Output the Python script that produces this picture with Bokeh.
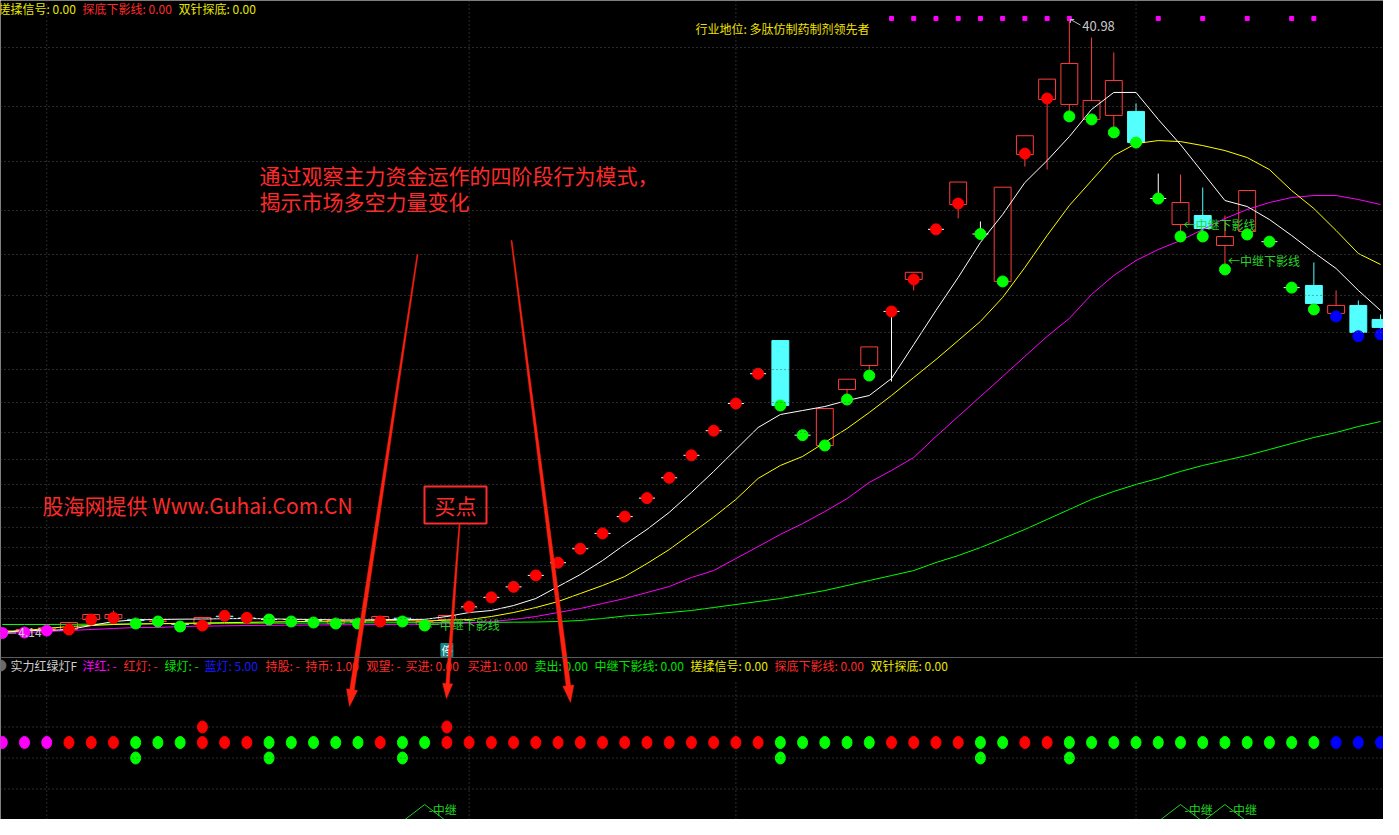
import math
from bokeh.plotting import figure
from bokeh.models import Range1d, Span, Grid
from bokeh.core.properties import value
from bokeh.embed import file_html
from bokeh.resources import INLINE

NAN = float("nan")

# ---------------- data ----------------
opens = [4.20, 4.25, 4.35, 4.35, 4.95, 5.01, 4.93, 4.83, 4.68, 4.65,
         5.15, 5.04, 4.95, 4.95, 4.90, 4.70, 4.80, 4.89, 5.03, 4.65,
         4.95, 5.71, 6.28, 6.91, 7.60, 8.36, 9.20, 10.12, 11.13, 12.24,
         13.46, 14.81, 16.29, 17.92, 19.71, 21.70, 16.02, 15.40, 18.76, 20.20,
         23.45, 25.37, 28.38, 29.87, 28.10, 25.25, 32.87, 36.18, 35.88, 34.98,
         35.22, 35.46, 30.23, 28.67, 29.21, 27.41, 28.25, 27.64, 24.88, 25.01,
         23.33, 23.81, 22.97]
highs = [4.30, 4.40, 4.50, 4.77, 5.25, 5.49, 4.95, 4.90, 4.70, 5.07,
         5.19, 5.07, 5.25, 4.97, 4.92, 4.90, 4.85, 5.13, 5.05, 4.85,
         5.19, 5.71, 6.28, 6.91, 7.60, 8.36, 9.20, 10.12, 11.13, 12.24,
         13.46, 14.81, 16.29, 17.92, 19.71, 21.70, 16.02, 17.62, 19.38, 21.32,
         23.45, 25.80, 28.38, 31.22, 28.85, 30.91, 34.00, 37.40, 40.98, 39.90,
         39.00, 35.94, 31.73, 31.67, 30.89, 29.21, 30.71, 27.64, 24.88, 26.39,
         24.71, 24.11, 23.27]
lows = [4.14, 4.17, 4.29, 4.35, 4.95, 5.01, 4.71, 4.80, 4.53, 4.59,
        5.10, 4.99, 4.95, 4.83, 4.77, 4.68, 4.71, 4.83, 4.83, 4.59,
        4.95, 5.71, 6.28, 6.91, 7.60, 8.36, 9.20, 10.12, 11.13, 12.24,
        13.46, 14.81, 16.29, 17.92, 19.71, 17.80, 16.02, 15.40, 18.16, 19.60,
        19.24, 24.71, 28.38, 29.03, 28.10, 25.25, 32.15, 31.97, 35.16, 34.98,
        34.20, 33.59, 30.23, 27.95, 27.95, 25.97, 28.07, 27.64, 24.88, 23.57,
        23.15, 21.96, 22.07]
closes = [4.26, 4.35, 4.45, 4.77, 5.25, 5.25, 4.89, 4.86, 4.65, 5.07,
          5.12, 5.01, 4.95, 4.95, 4.88, 4.89, 4.80, 5.13, 5.00, 4.83,
          5.19, 5.71, 6.28, 6.91, 7.60, 8.36, 9.20, 10.12, 11.13, 12.24,
          13.46, 14.81, 16.29, 17.92, 19.71, 17.80, 16.02, 17.62, 19.38, 21.32,
          23.45, 25.80, 28.38, 31.22, 28.10, 30.91, 34.00, 37.40, 38.34, 36.12,
          37.32, 33.59, 30.23, 29.99, 28.43, 27.95, 30.71, 27.64, 24.88, 23.93,
          23.81, 22.19, 22.49]

ma1 = [4.17, 4.29, 4.29, 4.35, 4.59, 4.83, 4.93, 4.95, 4.97, 4.98,
       5.00, 5.01, 4.99, 4.97, 4.95, 4.93, 4.92, 4.94, 4.95, 4.96,
       5.13, 5.37, 5.49, 5.79, 6.21, 6.93, 7.65, 8.49, 9.45, 10.36,
       11.38, 12.58, 13.84, 15.16, 16.48, 17.26, 17.50, 17.74, 18.10, 18.40,
       19.42, 21.46, 23.51, 25.49, 27.59, 29.27, 31.19, 32.51, 33.95, 35.58,
       36.60, 36.60, 34.98, 33.47, 31.79, 30.11, 29.75, 28.97, 28.01, 26.99,
       26.03, 24.71, 23.51]
ma2 = [4.23, 4.29, 4.41, 4.53, 4.59, 4.65, 4.68, 4.70, 4.72, 4.74,
       4.76, 4.78, 4.80, 4.82, 4.84, 4.85, 4.86, 4.87, 4.88, 4.86,
       4.91, 4.95, 5.13, 5.37, 5.67, 6.03, 6.51, 6.99, 7.53, 8.31,
       9.15, 10.12, 11.10, 12.16, 13.42, 14.20, 14.74, 15.58, 16.42, 17.38,
       18.40, 19.48, 20.56, 21.70, 22.85, 24.29, 26.09, 28.01, 29.81, 31.31,
       32.81, 33.53, 33.71, 33.65, 33.41, 33.11, 32.69, 31.97, 30.71, 29.63,
       28.31, 26.93, 26.27]
ma3 = [4.11, 4.17, 4.23, 4.29, 4.35, 4.41, 4.47, 4.47, 4.53, 4.55,
       4.57, 4.59, 4.60, 4.61, 4.62, 4.63, 4.64, 4.65, 4.66, 4.67,
       4.70, 4.74, 4.83, 4.95, 5.13, 5.37, 5.61, 5.91, 6.21, 6.57,
       6.93, 7.47, 7.89, 8.61, 9.33, 10.06, 10.71, 11.43, 12.21, 13.18,
       13.90, 14.68, 15.94, 17.14, 18.34, 19.54, 20.75, 21.95, 23.03, 24.47,
       25.61, 26.51, 27.17, 27.71, 28.37, 29.03, 29.57, 29.99, 30.29, 30.41,
       30.41, 30.17, 29.87]
ma4 = [4.65, 4.65, 4.65, 4.66, 4.67, 4.68, 4.69, 4.70, 4.70, 4.71,
       4.72, 4.72, 4.73, 4.73, 4.74, 4.74, 4.75, 4.75, 4.76, 4.76,
       4.77, 4.77, 4.78, 4.79, 4.80, 4.83, 4.89, 5.01, 5.16, 5.25,
       5.37, 5.49, 5.67, 5.85, 6.03, 6.21, 6.45, 6.69, 6.99, 7.29,
       7.59, 7.89, 8.37, 8.79, 9.27, 9.81, 10.36, 10.96, 11.56, 12.16,
       12.64, 13.06, 13.42, 13.84, 14.20, 14.50, 14.80, 15.16, 15.52, 15.88,
       16.18, 16.54, 16.84]

# signal dot on the candles (price) and lamp colour per bar
sig_price = [4.14, 4.17, 4.29, 4.35, 4.95, 5.04, 4.71, 4.83, 4.53, 4.59,
             5.17, 5.05, 4.95, 4.83, 4.77, 4.71, 4.71, 4.83, 4.83, 4.59,
             NAN, 5.71, 6.28, 6.91, 7.60, 8.36, 9.20, 10.12, 11.13, 12.24,
             13.46, 14.81, 16.29, 17.92, 19.71, 17.80, 16.02, 15.40, 18.16, 19.60,
             23.45, 25.37, 28.38, 29.93, 28.10, 25.25, 32.93, 36.24, 35.16, 34.98,
             34.20, 33.59, 30.23, 27.95, 27.95, 25.97, 28.07, 27.64, 24.88, 23.57,
             23.15, 21.96, 22.07]
lamp = ("MMM" + "RRR" + "GGG" + "RRR" + "GGGGG" + "R" + "GG" + "RRRRRRRRRRRRRRR"
        + "GGGGG" + "RRRR" + "GG" + "RR" + "GGGGGGGGGGGG" + "BBB")
lamp_level = [3] * 63
upper_red_bars = [9, 20]
upper_red_level = [4, 4]
lower_green_bars = [6, 12, 18, 35, 44, 48]
lower_green_level = [2, 2, 2, 2, 2, 2]
relay_bars = [19, 53, 55]
relay_label_price = [4.65, 28.67, 26.51]
limit_mark_bars = [40, 41, 42, 43, 44, 45, 46, 47, 48, 52, 54, 56, 58, 59]
halt_bar = 20
vgrid_bars = [2, 21, 33, 51]
grid_prices = [39.30, 35.76, 32.45, 29.51, 26.87, 24.41, 22.19, 19.96, 17.98, 16.18,
               14.56, 13.06, 11.68, 10.48, 9.28, 8.19, 7.17, 6.33, 5.61, 5.01]
ind_grid = [0, 2, 4, 6]
high_label = "40.98"
low_label = "4.14"

N = len(closes)
xs = list(range(N))

# ---------------- styles ----------------
FONT = value("Noto Sans CJK SC")
RED = "#ff2a2a"
CAND_RED = "#ff3c3c"
CYAN = "#54ffff"
YEL = "#e8e800"
GRN = "#00e600"
BLU = "#1a1aff"
MAG = "#ff00ff"
GRID = "#555555"
LAMP = {"M": "#ff00ff", "R": "#ff0000", "G": "#00ff00", "B": "#0000ff"}

# layout mapping of picture pixels -> data (used for annotations only)
def X(xr):
    return (xr - 9.8) / 22.23

def Y(yr):
    return 42.602 - 0.06005 * yr

def V(yr):
    return (796.5 - yr) / 15.5

W, H = 1383, 819
p = figure(width=W, height=H, x_range=Range1d(X(8), X(1391)), y_range=Range1d(Y(827), Y(8)),
           output_backend="svg", toolbar_location=None, x_axis_location=None,
           y_axis_location=None, min_border=0, title=None,
           background_fill_color="black", border_fill_color="black", outline_line_color=None)
p.extra_y_ranges = {"ind": Range1d(V(827), V(8))}
for obj in list(p.center):
    if isinstance(obj, Grid):
        obj.visible = False
        obj.grid_line_color = None

# ---------------- grid ----------------
for gp in grid_prices:
    p.add_layout(Span(location=gp, dimension="width", line_color=GRID, line_dash="1 3", line_width=1))
for gv in ind_grid:
    p.add_layout(Span(location=gv, dimension="width", line_color=GRID, line_dash="1 3",
                      line_width=1, y_range_name="ind"))
p.segment(x0=vgrid_bars, x1=vgrid_bars, y0=[Y(8)] * 4, y1=[Y(663)] * 4,
          line_color=GRID, line_dash="1 3")
p.segment(x0=vgrid_bars, x1=vgrid_bars, y0=[V(690)] * 4, y1=[V(827)] * 4,
          line_color=GRID, line_dash="1 3", y_range_name="ind")
p.add_layout(Span(location=Y(665), dimension="width", line_color="#5a5a5a", line_width=1))

# ---------------- candles ----------------
up = [i for i in xs if closes[i] > opens[i]]
dn = [i for i in xs if closes[i] < opens[i]]
fl = [i for i in xs if closes[i] == opens[i]]
BW = 0.38

def wick(idx, color):
    top = [max(opens[i], closes[i]) for i in idx]
    bot = [min(opens[i], closes[i]) for i in idx]
    p.segment(x0=idx, x1=idx, y0=[highs[i] for i in idx], y1=top, line_color=color)
    p.segment(x0=idx, x1=idx, y0=bot, y1=[lows[i] for i in idx], line_color=color)

wick(up, CAND_RED)
wick(dn, CYAN)
wick(fl, "white")
p.quad(left=[i - BW for i in up], right=[i + BW for i in up],
       top=[closes[i] for i in up], bottom=[opens[i] for i in up],
       fill_color="black", line_color=CAND_RED, line_width=1)
p.quad(left=[i - BW for i in dn], right=[i + BW for i in dn],
       top=[opens[i] for i in dn], bottom=[closes[i] for i in dn],
       fill_color=CYAN, line_color=CYAN, line_width=1)
p.segment(x0=[i - 0.36 for i in fl], x1=[i + 0.36 for i in fl],
          y0=[closes[i] for i in fl], y1=[closes[i] for i in fl], line_color="white")

# ---------------- moving averages ----------------
p.line(xs, ma4, line_color="#00ff00", line_width=1)
p.line(xs, ma3, line_color="#ff00ff", line_width=1)
p.line(xs, ma2, line_color="#ffff00", line_width=1)
p.line(xs, ma1, line_color="#ffffff", line_width=1)

# ---------------- signal dots ----------------
cols = [LAMP[c] for c in lamp]
p.scatter(xs, sig_price, size=11, fill_color=cols, line_color=cols)
p.scatter(limit_mark_bars, [Y(26)] * len(limit_mark_bars), marker="square", size=4,
          fill_color=MAG, line_color=MAG)

# high / low labels
hi_i = highs.index(max(highs))
lo_i = lows.index(min(lows))
p.segment(x0=[hi_i + 0.05], x1=[hi_i + 0.5], y0=[max(highs)], y1=[max(highs) - 0.33],
          line_color="#bdbdbd")
p.segment(x0=[hi_i + 0.05, hi_i + 0.05], x1=[hi_i + 0.22, hi_i + 0.05],
          y0=[max(highs), max(highs)], y1=[max(highs), max(highs) - 0.2], line_color="#bdbdbd")
p.text(x=[hi_i], y=[max(highs)], text=[high_label], x_offset=13, y_offset=6,
       text_font=FONT, text_font_size=value("13px"), text_color="#c8c8c8",
       text_baseline="middle", text_align="left")
p.segment(x0=[lo_i + 0.23], x1=[lo_i + 0.62], y0=[min(lows)], y1=[min(lows)], line_color="#bdbdbd")
p.text(x=[lo_i], y=[min(lows)], text=[low_label], x_offset=16, y_offset=0,
       text_font=FONT, text_font_size=value("12px"), text_color="#c8c8c8",
       text_baseline="middle", text_align="left")

# relay labels
p.text(x=relay_bars, y=relay_label_price, text=["←中继下影线"] * len(relay_bars), x_offset=3,
       text_font=FONT, text_font_size=value("12px"), text_color="#2ad42a",
       text_baseline="middle", text_align="left")

# halt marker
p.rect(x=[halt_bar], y=[Y(657.5)], width=12, height=13, width_units="screen",
       height_units="screen", fill_color="#158585", line_color="#158585")
p.text(x=[halt_bar], y=[Y(657.5)], text=["停"], text_font=FONT, text_font_size=value("11px"),
       text_color="white", text_baseline="middle", text_align="center")

# industry text
p.text(x=[X(703)], y=[Y(36)], text=["行业地位: 多肽仿制药制剂领先者"], text_font=FONT,
       text_font_size=value("12px"), text_color="#f0e000", text_baseline="middle")

# ---------------- lower indicator ----------------
p.ellipse(x=xs, y=lamp_level, width=10, height=12, width_units="screen", height_units="screen",
          fill_color=cols, line_color=cols, y_range_name="ind")
p.ellipse(x=upper_red_bars, y=upper_red_level, width=10, height=12, width_units="screen",
          height_units="screen", fill_color="#ff0000", line_color="#ff0000", y_range_name="ind")
p.ellipse(x=lower_green_bars, y=lower_green_level, width=10, height=12, width_units="screen",
          height_units="screen", fill_color="#00ff00", line_color="#00ff00", y_range_name="ind")
p.multi_line(xs=[[b - 1, b, b + 1] for b in relay_bars], ys=[[-2.1, -1.0, -2.1] for b in relay_bars],
             line_color="#22cc22", line_width=1, y_range_name="ind")
p.text(x=relay_bars, y=[-1.5] * len(relay_bars), text=["-中继"] * len(relay_bars), x_offset=4,
       y_offset=-3, text_font=FONT, text_font_size=value("12px"), text_color="#22d422",
       text_baseline="middle", text_align="left", y_range_name="ind")

# ---------------- header texts ----------------
row2 = [("搓揉信号: 0.00", 6, YEL), ("探底下影线: 0.00", 90, RED), ("双针探底: 0.00", 186, YEL)]
sub = [("实力红绿灯F", 18, "#cfcfcf"), ("洋红: -", 90, MAG), ("红灯: -", 131, RED),
       ("绿灯: -", 172, GRN), ("蓝灯: 5.00", 212, BLU), ("持股: -", 273, RED),
       ("持币: 1.00", 313, RED), ("观望: -", 374, RED), ("买进: 0.00", 413, RED),
       ("买进1: 0.00", 475, RED), ("卖出: 0.00", 542, GRN), ("中继下影线: 0.00", 602, GRN),
       ("搓揉信号: 0.00", 698, YEL), ("探底下影线: 0.00", 782, RED), ("双针探底: 0.00", 878, YEL)]
for txt, xr, c in row2:
    p.text(x=[X(xr)], y=[Y(16)], text=[txt], text_font=FONT, text_font_size=value("12px"),
           text_color=c, text_baseline="middle", text_align="left")
for txt, xr, c in sub:
    p.text(x=[X(xr)], y=[Y(673)], text=[txt], text_font=FONT, text_font_size=value("12px"),
           text_color=c, text_baseline="middle", text_align="left")
p.scatter([X(8)], [Y(673)], size=11, fill_color="#6a6a6a", line_color="#6a6a6a")

# ---------------- annotations ----------------
p.text(x=[X(267)], y=[Y(182)], text=["通过观察主力资金运作的四阶段行为模式，"], text_font=FONT,
       text_font_size=value("21px"), text_color=RED, text_baseline="middle", text_align="left")
p.text(x=[X(267)], y=[Y(208)], text=["揭示市场多空力量变化"], text_font=FONT,
       text_font_size=value("21px"), text_color=RED, text_baseline="middle", text_align="left")
p.text(x=[X(50)], y=[Y(512)], text=["股海网提供 Www.Guhai.Com.CN"], text_font=FONT,
       text_font_size=value("21px"), text_color=RED, text_baseline="middle", text_align="left")
p.quad(left=[X(432)], right=[X(494)], top=[Y(494)], bottom=[Y(531)], fill_color="black",
       line_color=RED, line_width=2)
p.text(x=[X(463)], y=[Y(512.5)], text=["买点"], text_font=FONT, text_font_size=value("21px"),
       text_color=RED, text_baseline="middle", text_align="center")


def tapered(x0, y0, x1, y1, w0, w1, hl, hw):
    dx, dy = x1 - x0, y1 - y0
    L = math.hypot(dx, dy)
    ux, uy = dx / L, dy / L
    nx, ny = -uy, ux
    bx, by = x1 - ux * hl, y1 - uy * hl
    pts = [(x0 + nx * w0 / 2, y0 + ny * w0 / 2), (bx + nx * w1 / 2, by + ny * w1 / 2),
           (bx + nx * hw / 2, by + ny * hw / 2), (x1, y1), (bx - nx * hw / 2, by - ny * hw / 2),
           (bx - nx * w1 / 2, by - ny * w1 / 2), (x0 - nx * w0 / 2, y0 - ny * w0 / 2)]
    return [X(a) for a, b in pts], [Y(b) for a, b in pts]

arrows = [tapered(425, 262, 357, 714, 1.0, 4.5, 17, 11),
          tapered(519, 248, 578, 710, 1.0, 4.5, 17, 11),
          tapered(467, 532, 454, 706, 1.0, 3.5, 15, 10)]
p.patches(xs=[a[0] for a in arrows], ys=[a[1] for a in arrows], fill_color="#ff2010",
          line_color="#ff2010", line_width=0.5)

open("out.html", "w").write(file_html(p, INLINE))
